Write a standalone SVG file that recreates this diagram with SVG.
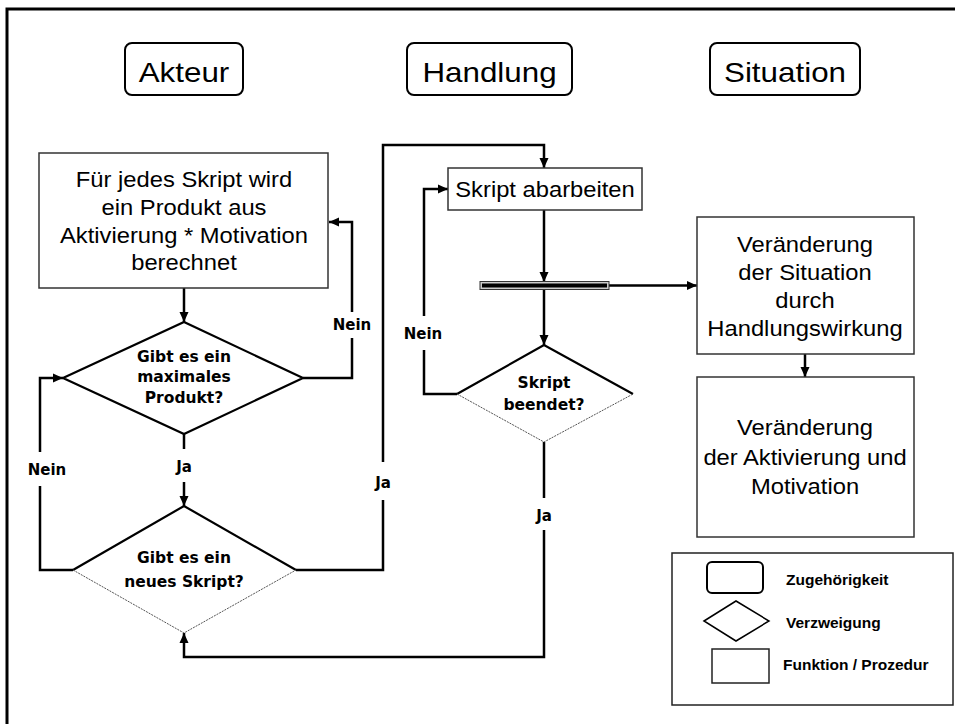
<svg xmlns="http://www.w3.org/2000/svg" width="955" height="724" viewBox="0 0 955 724">
  <defs>
    <marker id="arrow" markerUnits="userSpaceOnUse" markerWidth="11" markerHeight="10" refX="10" refY="5" orient="auto">
      <path d="M0,0.5 L10,5 L0,9.5 z" fill="#000"/>
    </marker>
    <style>
      .frame { fill: none; stroke: #000; stroke-width: 3; }
      .head { fill: #fff; stroke: #000; stroke-width: 2; }
      .head-text { font-family: "Liberation Sans", Arial, sans-serif; font-size: 28px; fill: #000; text-anchor: middle; }
      .box { fill: #fff; stroke: #333; stroke-width: 1.5; }
      .box-text { font-family: "Liberation Sans", Arial, sans-serif; font-size: 22px; fill: #000; text-anchor: middle; }
      .dia-top { fill: none; stroke: #000; stroke-width: 2.2; stroke-linejoin: miter; }
      .dia-low { fill: none; stroke: #555; stroke-width: 1; stroke-dasharray: 2 1; }
      .dia-text { font-family: "DejaVu Sans", Verdana, sans-serif; font-weight: bold; font-size: 15.5px; fill: #000; text-anchor: middle; }
      .label { font-family: "DejaVu Sans", Verdana, sans-serif; font-weight: bold; font-size: 15px; fill: #000; text-anchor: middle; }
      .conn { fill: none; stroke: #000; stroke-width: 2.5; }
      .legend-text { font-family: "Liberation Sans", Arial, sans-serif; font-weight: bold; font-size: 15.5px; fill: #000; }
    </style>
  </defs>

  <rect x="0" y="0" width="955" height="724" fill="#fff"/>
  <!-- outer frame (top and left edges) -->
  <path class="frame" d="M7,724 V9 H955"/>

  <!-- column headers -->
  <g id="head-akteur">
    <rect class="head" x="125" y="43" width="118" height="52" rx="7"/>
    <g transform="translate(184 0) scale(1.12 1)"><text class="head-text" x="0" y="82">Akteur</text></g>
  </g>
  <g id="head-handlung">
    <rect class="head" x="407" y="43" width="165" height="52" rx="7"/>
    <g transform="translate(489.5 0) scale(1.12 1)"><text class="head-text" x="0" y="82">Handlung</text></g>
  </g>
  <g id="head-situation">
    <rect class="head" x="710" y="43" width="150" height="52" rx="7"/>
    <g transform="translate(785 0) scale(1.12 1)"><text class="head-text" x="0" y="82">Situation</text></g>
  </g>

  <!-- connectors -->
  <g id="connectors">
    <path class="conn" d="M184,288 V322" marker-end="url(#arrow)"/>
    <path class="conn" d="M303,378 H352 V338"/>
    <path class="conn" d="M352,312 V222 H329" marker-end="url(#arrow)"/>
    <path class="conn" d="M184,434 V449"/>
    <path class="conn" d="M184,482 V506" marker-end="url(#arrow)"/>
    <path class="conn" d="M73,570 H40 V486"/>
    <path class="conn" d="M40,452 V378 H63" marker-end="url(#arrow)"/>
    <path class="conn" d="M296,570 H383 V500"/>
    <path class="conn" d="M383,462 V145 H544 V168" marker-end="url(#arrow)"/>
    <path class="conn" d="M544,210 V282" marker-end="url(#arrow)"/>
    <path class="conn" d="M609,285.5 H697" marker-end="url(#arrow)"/>
    <path class="conn" d="M544,289 V345" marker-end="url(#arrow)"/>
    <path class="conn" d="M457,394 H424 V350"/>
    <path class="conn" d="M424,316 V189 H448" marker-end="url(#arrow)"/>
    <path class="conn" d="M544,442 V498"/>
    <path class="conn" d="M544,530 V657 H184 V633" marker-end="url(#arrow)"/>
    <path class="conn" d="M805,354 V377" marker-end="url(#arrow)"/>

    <text class="label" x="352" y="330">Nein</text>
    <text class="label" x="184" y="472">Ja</text>
    <text class="label" x="47" y="475">Nein</text>
    <text class="label" x="383" y="488">Ja</text>
    <text class="label" x="423" y="339">Nein</text>
    <text class="label" x="544" y="521">Ja</text>
  </g>

  <!-- Akteur column -->
  <g id="node-produkt">
    <rect class="box" x="39" y="153" width="289" height="135"/>
    <g transform="translate(184 0) scale(1.08 1)">
      <text class="box-text" x="0" y="187">Für jedes Skript wird</text>
      <text class="box-text" x="0" y="215">ein Produkt aus</text>
      <text class="box-text" x="0" y="243">Aktivierung * Motivation</text>
      <text class="box-text" x="0" y="270">berechnet</text>
    </g>
  </g>

  <g id="node-maximal">
    <path fill="#fff" d="M184,322 L303,378 L184,434 L63,378 z"/>
    <path class="dia-top" d="M63,378 L184,322 L303,378 L184,434 z"/>
    <text class="dia-text" x="184" y="362">Gibt es ein</text>
    <text class="dia-text" x="184" y="382">maximales</text>
    <text class="dia-text" x="184" y="403">Produkt?</text>
  </g>

  <g id="node-neues-skript">
    <path fill="#fff" d="M184,506 L296,570 L184,633 L73,570 z"/>
    <path class="dia-top" d="M73,570 L184,506 L296,570"/>
    <path class="dia-low" d="M73,570 L184,633 L296,570"/>
    <text class="dia-text" x="184" y="563">Gibt es ein</text>
    <text class="dia-text" x="184" y="587">neues Skript?</text>
  </g>

  <!-- Handlung column -->
  <g id="node-abarbeiten">
    <rect class="box" x="448" y="168" width="194" height="42"/>
    <g transform="translate(545 0) scale(1.08 1)">
      <text class="box-text" x="0" y="197">Skript abarbeiten</text>
    </g>
  </g>

  <g id="node-bar">
    <rect x="480" y="281.5" width="129" height="8" fill="#ccc" stroke="#333" stroke-width="1"/>
    <rect x="482" y="283.5" width="125" height="4" fill="#000"/>
  </g>

  <g id="node-beendet">
    <path fill="#fff" d="M544,345 L633,394 L544,442 L457,394 z"/>
    <path class="dia-top" d="M457,394 L544,345 L633,394"/>
    <path class="dia-low" d="M457,394 L544,442 L633,394"/>
    <text class="dia-text" x="544" y="388">Skript</text>
    <text class="dia-text" x="544" y="410">beendet?</text>
  </g>

  <!-- Situation column -->
  <g id="node-situation">
    <rect class="box" x="697" y="217" width="217" height="137"/>
    <g transform="translate(805 0) scale(1.08 1)">
      <text class="box-text" x="0" y="252">Veränderung</text>
      <text class="box-text" x="0" y="280">der Situation</text>
      <text class="box-text" x="0" y="308">durch</text>
      <text class="box-text" x="0" y="336">Handlungswirkung</text>
    </g>
  </g>

  <g id="node-aktivierung">
    <rect class="box" x="697" y="377" width="217" height="160"/>
    <g transform="translate(805 0) scale(1.08 1)">
      <text class="box-text" x="0" y="435">Veränderung</text>
      <text class="box-text" x="0" y="465">der Aktivierung und</text>
      <text class="box-text" x="0" y="494">Motivation</text>
    </g>
  </g>

  <!-- legend -->
  <g id="legend">
    <rect x="672" y="553" width="281" height="152" fill="#fff" stroke="#222" stroke-width="1.5"/>
    <rect x="707" y="562" width="56" height="31" rx="5" fill="#fff" stroke="#000" stroke-width="2"/>
    <path d="M704,621 L736,601 L769,621 L736,641 z" fill="#fff" stroke="#000" stroke-width="1.5"/>
    <rect x="712" y="649" width="57" height="34" fill="#fff" stroke="#222" stroke-width="1.5"/>
    <text class="legend-text" x="786" y="585">Zugehörigkeit</text>
    <text class="legend-text" x="786" y="628">Verzweigung</text>
    <text class="legend-text" x="783" y="670">Funktion / Prozedur</text>
  </g>
</svg>
